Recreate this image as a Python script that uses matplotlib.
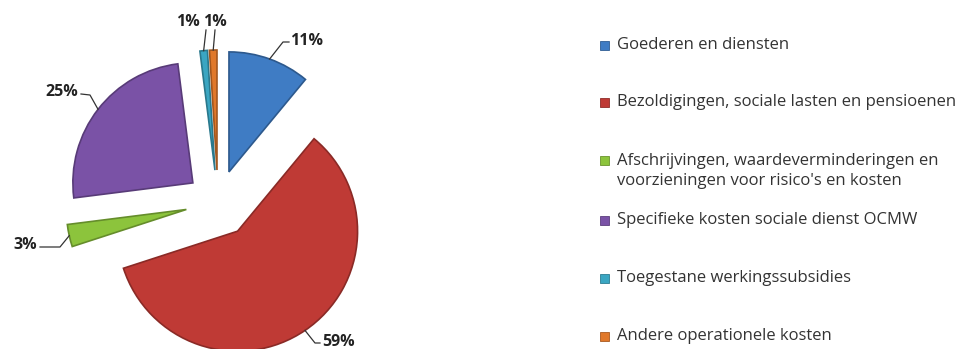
import numpy as np
import matplotlib.pyplot as plt
from matplotlib.patches import Rectangle
from matplotlib.colors import to_rgb

plt.rcParams['font.family'] = ['Open Sans', 'DejaVu Sans']

# kostenverdeling (procenten)
categories = ['Goederen en diensten',
              'Bezoldigingen, sociale lasten en pensioenen',
              'Afschrijvingen, waardeverminderingen en\nvoorzieningen voor risico\'s en kosten',
              'Specifieke kosten sociale dienst OCMW',
              'Toegestane werkingssubsidies',
              'Andere operationele kosten']
shares = [11, 59, 3, 25, 1, 1]
colors = ['#3f7cc4', '#bf3a35', '#8cc43c', '#7a52a6', '#3aa6c2', '#e0782a']
explode = [0.27, 0.29, 0.27, 0.265, 0.27, 0.27]  # als fractie van de straal

W, H = 964, 349


def darker(c, f=0.7):
    r, g, b = to_rgb(c)
    return (r * f, g * f, b * f)


fig = plt.figure(figsize=(W / 100, H / 100), dpi=100)
ax = fig.add_axes([0, 0, 1, 1])

# pixelcoördinaten, y van onder naar boven
cx, cy, R = 218, H - 202.4, 120
wedges, _ = ax.pie(shares, colors=colors, explode=[e * R for e in explode],
                   startangle=90, counterclock=False, center=(cx, cy),
                   radius=R, wedgeprops=dict(linewidth=1.2))
for w, c in zip(wedges, colors):
    w.set_edgecolor(darker(c, 0.72))

ax.set_xlim(0, W)
ax.set_ylim(0, H)
ax.set_aspect('equal')
ax.axis('off')

# labels: (knik, eindpunt lijn, tekstpositie, uitlijning) in beeldcoördinaten
label_layout = [
    ((283, 42), (289, 42), (290, 41), 'left'),
    ((315, 343), (320, 343), (322, 342), 'left'),
    ((60, 247), (40, 247), (37, 245), 'right'),
    ((90, 95), (81, 94), (78, 92), 'right'),
    ((206, 30), (206, 30), (188, 22), 'center'),
    ((215, 30), (215, 30), (215, 22), 'center'),
]

for w, share, (knee, end, tpos, ha) in zip(wedges, shares, label_layout):
    mid = np.deg2rad((w.theta1 + w.theta2) / 2)
    ox, oy = w.center
    ax_pt = (ox + w.r * np.cos(mid), oy + w.r * np.sin(mid))
    xs = [ax_pt[0], knee[0], end[0]]
    ys = [ax_pt[1], H - knee[1], H - end[1]]
    ax.plot(xs, ys, color='#333333', lw=0.9)
    ax.text(tpos[0], H - tpos[1], f'{share}%', ha=ha, va='center',
            fontsize=11.5, fontweight='bold', color='#222222')

# legenda
legend_y = [45, 102, 171, 220, 278, 336]
for c, name, ly in zip(colors, categories, legend_y):
    lines = name.split('\n')
    first_y = ly - 11 * (len(lines) - 1)
    ax.add_patch(Rectangle((600, H - first_y - 4.5), 9, 9,
                           facecolor=c, edgecolor=darker(c, 0.75), lw=0.6))
    ax.text(617, H - ly, name, ha='left', va='center', fontsize=12,
            color='#333333', linespacing=1.3)

fig.savefig('out.png', dpi=100)
